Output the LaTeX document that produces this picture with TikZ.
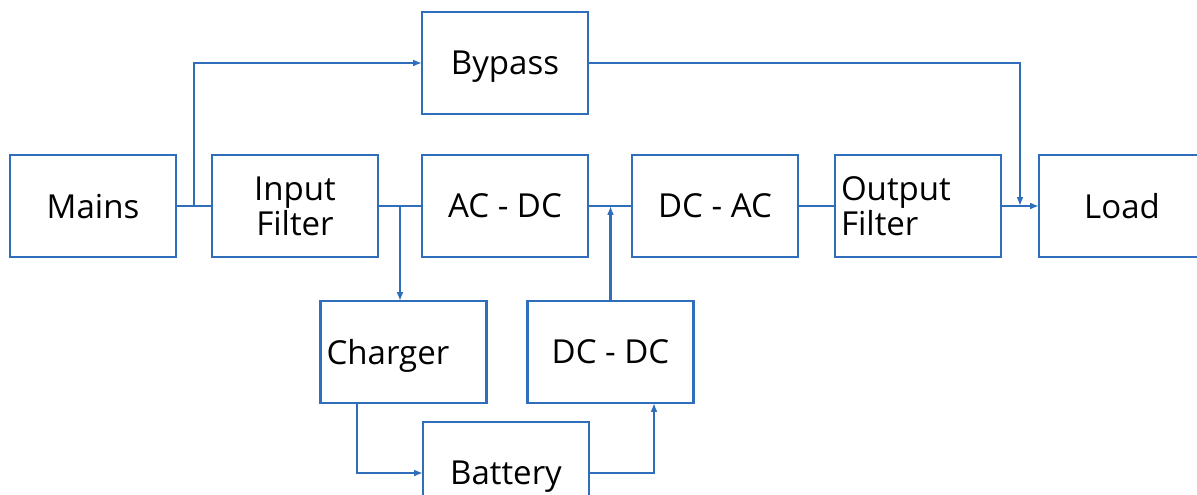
\documentclass[tikz,border=0pt]{standalone}
\usepackage{fontspec}
\setmainfont{Open Sans}
\usepackage{xcolor}
\usepackage{tikz}
\usetikzlibrary{arrows.meta, positioning, calc}
\definecolor{lineblue}{RGB}{46, 110, 186}

\begin{document}
\begin{tikzpicture}[
    block/.style={draw=lineblue, line width=1.6pt, fill=white, minimum width=4.15cm,
                  minimum height=2.55cm, inner sep=0.15cm, outer sep=0pt, text depth=0pt,
                  font=\fontsize{23.5}{25}\selectfont, text=black},
    wire/.style={draw=lineblue, line width=1.5pt},
    feed/.style={wire, -{Latex[length=2.2mm, width=1.7mm]}}
]
    \useasboundingbox (0,0) rectangle (29.925,-12.35);

    % main chain
    \node[block] (mains) at (2.325,-5.15) {Mains};
    \node[block, right=0.9cm of mains, align=center] (infilter) {Input\\Filter};
    \node[block, right=1.1cm of infilter] (acdc) {AC - DC};
    \node[block, right=1.1cm of acdc] (dcac) {DC - AC};
    \node[block, right=0.925cm of dcac, align=left, text width=3.85cm, text depth={}] (outfilter) {Output\\Filter};
    \node[block, right=0.95cm of outfilter] (load) {Load};

    % bypass and battery path
    \node[block, above=1.025cm of acdc] (bypass) {Bypass};
    \node[block, align=left, text width=3.85cm] (charger) at (10.0875,-8.8) {Charger};
    \node[block] (dcdc) at (15.2625,-8.8) {DC - DC};
    \node[block] (battery) at (12.65,-11.825) {Battery};

    \coordinate (jmains) at ($(mains.east)!0.5!(infilter.west)$);
    \coordinate (jfilter) at ($(infilter.east)!0.5!(acdc.west)$);
    \coordinate (jlink) at ($(acdc.east)!0.5!(dcac.west)$);
    \coordinate (jout) at ($(outfilter.east)!0.5!(load.west)$);

    \draw[wire] (mains) -- (infilter);
    \draw[wire] (infilter) -- (acdc);
    \draw[wire] (acdc) -- (dcac);
    \draw[wire] (dcac) -- (outfilter);
    \draw[feed] (outfilter) -- (load);

    \draw[feed] (jmains) |- (bypass.west);
    \draw[feed] (bypass.east) -| (jout);
    \draw[feed] (jfilter) -- (jfilter |- charger.north);
    \draw[feed] ([xshift=-1.1625cm]charger.south) |- (battery.west);
    \draw[feed] (battery.east) -| ([xshift=1.0875cm]dcdc.south);
    \draw[feed] (dcdc.north) -- (dcdc.north |- jlink);
\end{tikzpicture}
\end{document}
